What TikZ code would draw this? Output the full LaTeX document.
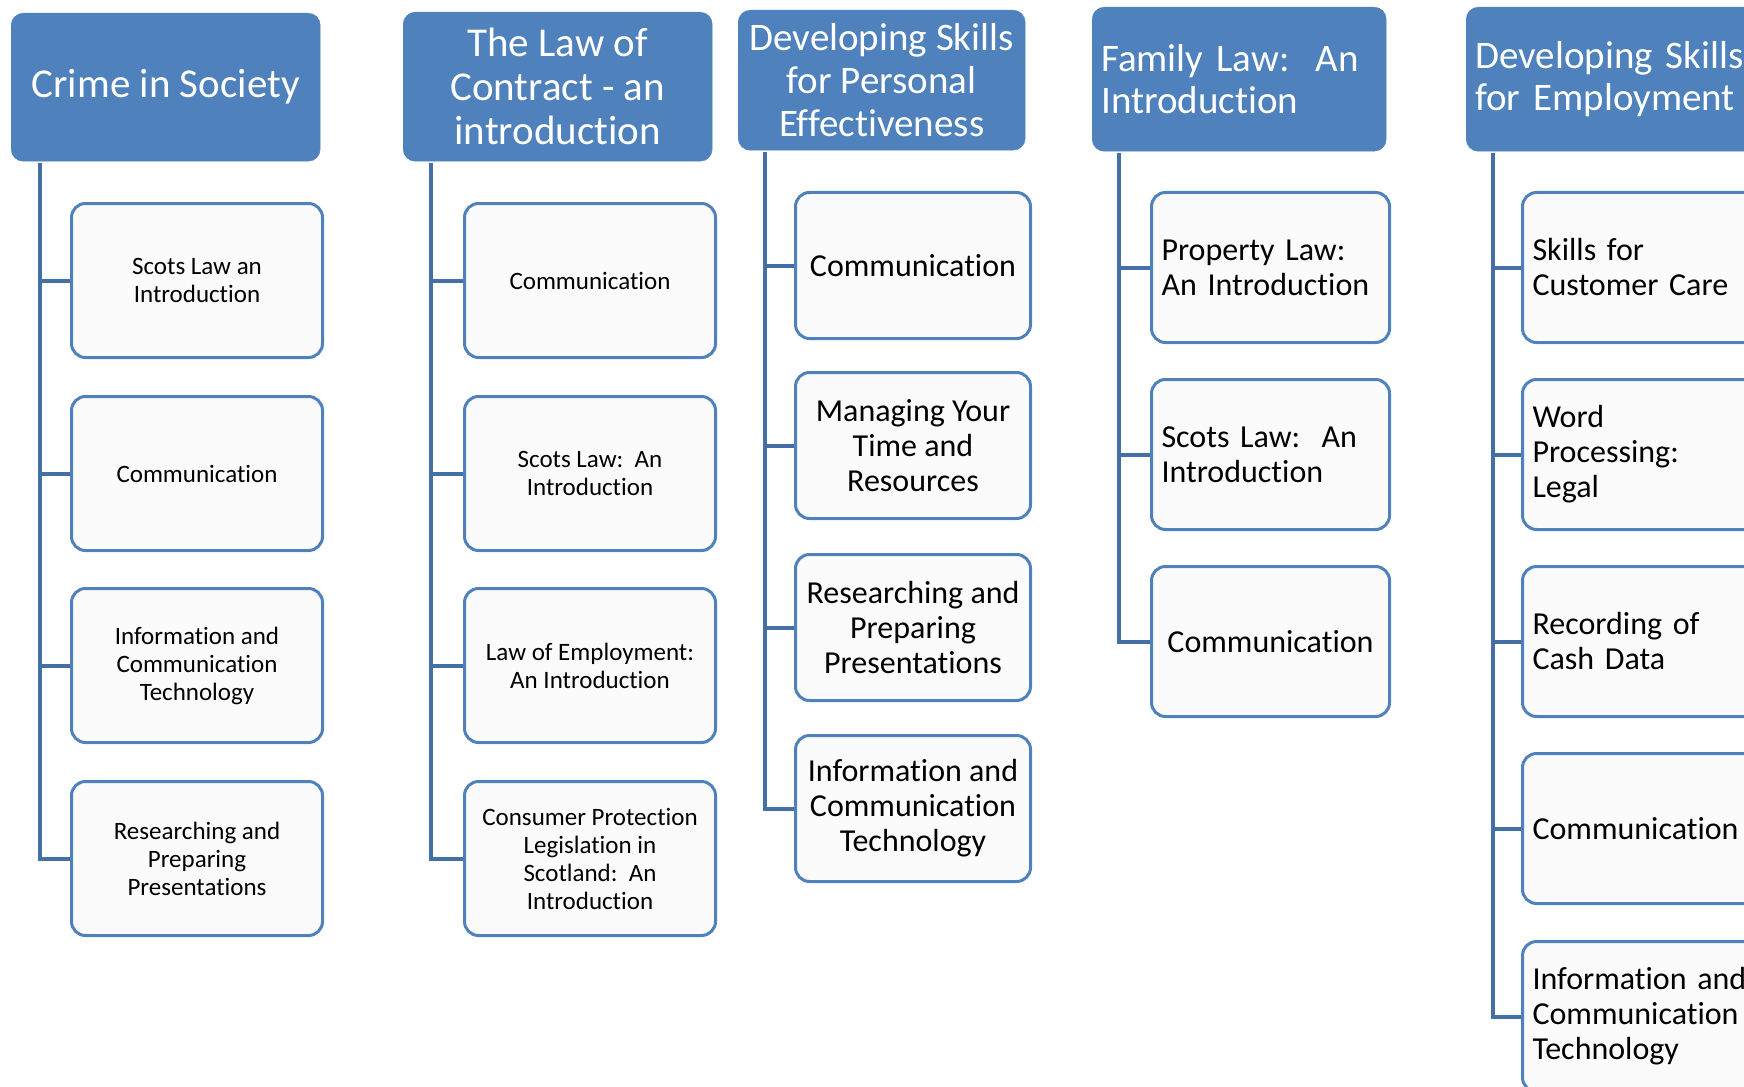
\documentclass[tikz,border=0pt]{standalone}
\usepackage{fontspec}
\setmainfont{Carlito}[RawFeature={-liga;-clig;-calt}]
\definecolor{hblue}{HTML}{4F81BD}
\definecolor{lblue}{HTML}{4470A6}
\definecolor{leaffill}{HTML}{FBFBFB}
\tikzset{
  head/.style={anchor=north west, rounded corners=12pt, fill=hblue, draw=hblue,
    text=white, inner sep=0pt, align=center},
  headL/.style={head, align=left, inner xsep=9pt},
  leaf/.style={anchor=north west, rounded corners=14pt, fill=leaffill, draw=hblue,
    line width=3pt, text=black, inner sep=0pt, align=center},
  leafL/.style={leaf, align=left, inner xsep=10pt},
  small/.style={font=\fontsize{25}{28}\selectfont},
  big/.style={font=\fontsize{32}{35}\selectfont},
  link/.style={draw=lblue, line width=4pt}
}
\begin{document}
\begin{tikzpicture}[x=1pt, y=-1pt]
\clip (0,0) rectangle (1744,1086);
\useasboundingbox (0,0) rectangle (1744,1086);

% ---- column 1 ----
\node[head, minimum width=309pt, minimum height=148pt, font=\fontsize{41}{44}\selectfont]
  (h1) at (11,13) {Crime in Society};
\node[leaf, small, minimum width=251pt, minimum height=154pt] (a1) at (70,202) {Scots Law an\\Introduction};
\node[leaf, small, minimum width=251pt, minimum height=154pt] (a2) at (70,395) {Communication};
\node[leaf, small, minimum width=251pt, minimum height=154pt] (a3) at (70,587) {Information and\\Communication\\Technology};
\node[leaf, small, minimum width=251pt, minimum height=154pt] (a4) at (70,780) {Researching and\\Preparing\\Presentations};
\coordinate (t1) at (40,163);
\draw[link] (t1) |- (a4.west);
\foreach \n in {a1,a2,a3} \draw[link] (t1 |- \n.west) -- (\n.west);

% ---- column 2 ----
\node[head, minimum width=309pt, minimum height=149pt, font=\fontsize{41}{44}\selectfont]
  (h2) at (403,12) {The Law of\\Contract - an\\introduction};
\node[leaf, small, minimum width=251pt, minimum height=154pt] (b1) at (463,202) {Communication};
\node[leaf, small, minimum width=251pt, minimum height=154pt] (b2) at (463,395) {Scots Law:\ \ An\\Introduction};
\node[leaf, small, minimum width=251pt, minimum height=154pt] (b3) at (463,587) {Law of Employment:\\An Introduction};
\node[leaf, small, minimum width=251pt, minimum height=154pt] (b4) at (463,780) {Consumer Protection\\Legislation in\\Scotland:\ \ An\\Introduction};
\coordinate (t2) at (431,163);
\draw[link] (t2) |- (b4.west);
\foreach \n in {b1,b2,b3} \draw[link] (t2 |- \n.west) -- (\n.west);

% ---- column 3 ----
\node[head, minimum width=287pt, minimum height=140pt, font=\fontsize{39}{43}\selectfont]
  (h3) at (738,10) {Developing Skills\\for Personal\\Effectiveness};
\node[leaf, big, minimum width=235pt, minimum height=146pt] (c1) at (794,191) {Communication};
\node[leaf, big, minimum width=235pt, minimum height=146pt] (c2) at (794,371) {Managing Your\\Time and\\Resources};
\node[leaf, big, minimum width=235pt, minimum height=146pt] (c3) at (794,553) {Researching and\\Preparing\\Presentations};
\node[leaf, big, minimum width=235pt, minimum height=146pt] (c4) at (794,734) {Information and\\Communication\\Technology};
\coordinate (t3) at (765,152);
\draw[link] (t3) |- (c4.west);
\foreach \n in {c1,c2,c3} \draw[link] (t3 |- \n.west) -- (\n.west);

% ---- column 4 ----
\node[headL, text width=276pt, minimum height=144pt, font=\fontsize{39}{42}\selectfont]
  (h4) at (1092,7) {Family Law:\ \ An\\Introduction};
\node[leafL, big, text width=218pt, minimum height=150pt] (d1) at (1150,191) {Property Law:\\An Introduction};
\node[leafL, big, text width=218pt, minimum height=150pt] (d2) at (1150,378) {Scots Law:\ \ An\\Introduction};
\node[leaf, big, minimum width=238pt, minimum height=150pt] (d3) at (1150,565) {Communication};
\coordinate (t4) at (1119,153);
\draw[link] (t4) |- (d3.west);
\foreach \n in {d1,d2} \draw[link] (t4 |- \n.west) -- (\n.west);

% ---- column 5 ----
\node[headL, text width=276pt, minimum height=144pt, font=\fontsize{39}{42}\selectfont]
  (h5) at (1466,7) {Developing Skills\\for Employment};
\node[leafL, big, text width=218pt, minimum height=150pt] (e1) at (1521,191) {Skills for\\Customer Care};
\node[leafL, big, text width=218pt, minimum height=150pt] (e2) at (1521,378) {Word\\Processing:\\Legal};
\node[leafL, big, text width=218pt, minimum height=150pt] (e3) at (1521,565) {Recording of\\Cash Data};
\node[leafL, big, text width=218pt, minimum height=150pt] (e4) at (1521,752) {Communication};
\node[leafL, big, text width=218pt, minimum height=150pt] (e5) at (1521,940) {Information and\\Communication\\Technology};
\coordinate (t5) at (1493,153);
\draw[link] (t5) |- (e5.west);
\foreach \n in {e1,e2,e3,e4} \draw[link] (t5 |- \n.west) -- (\n.west);
\end{tikzpicture}
\end{document}
